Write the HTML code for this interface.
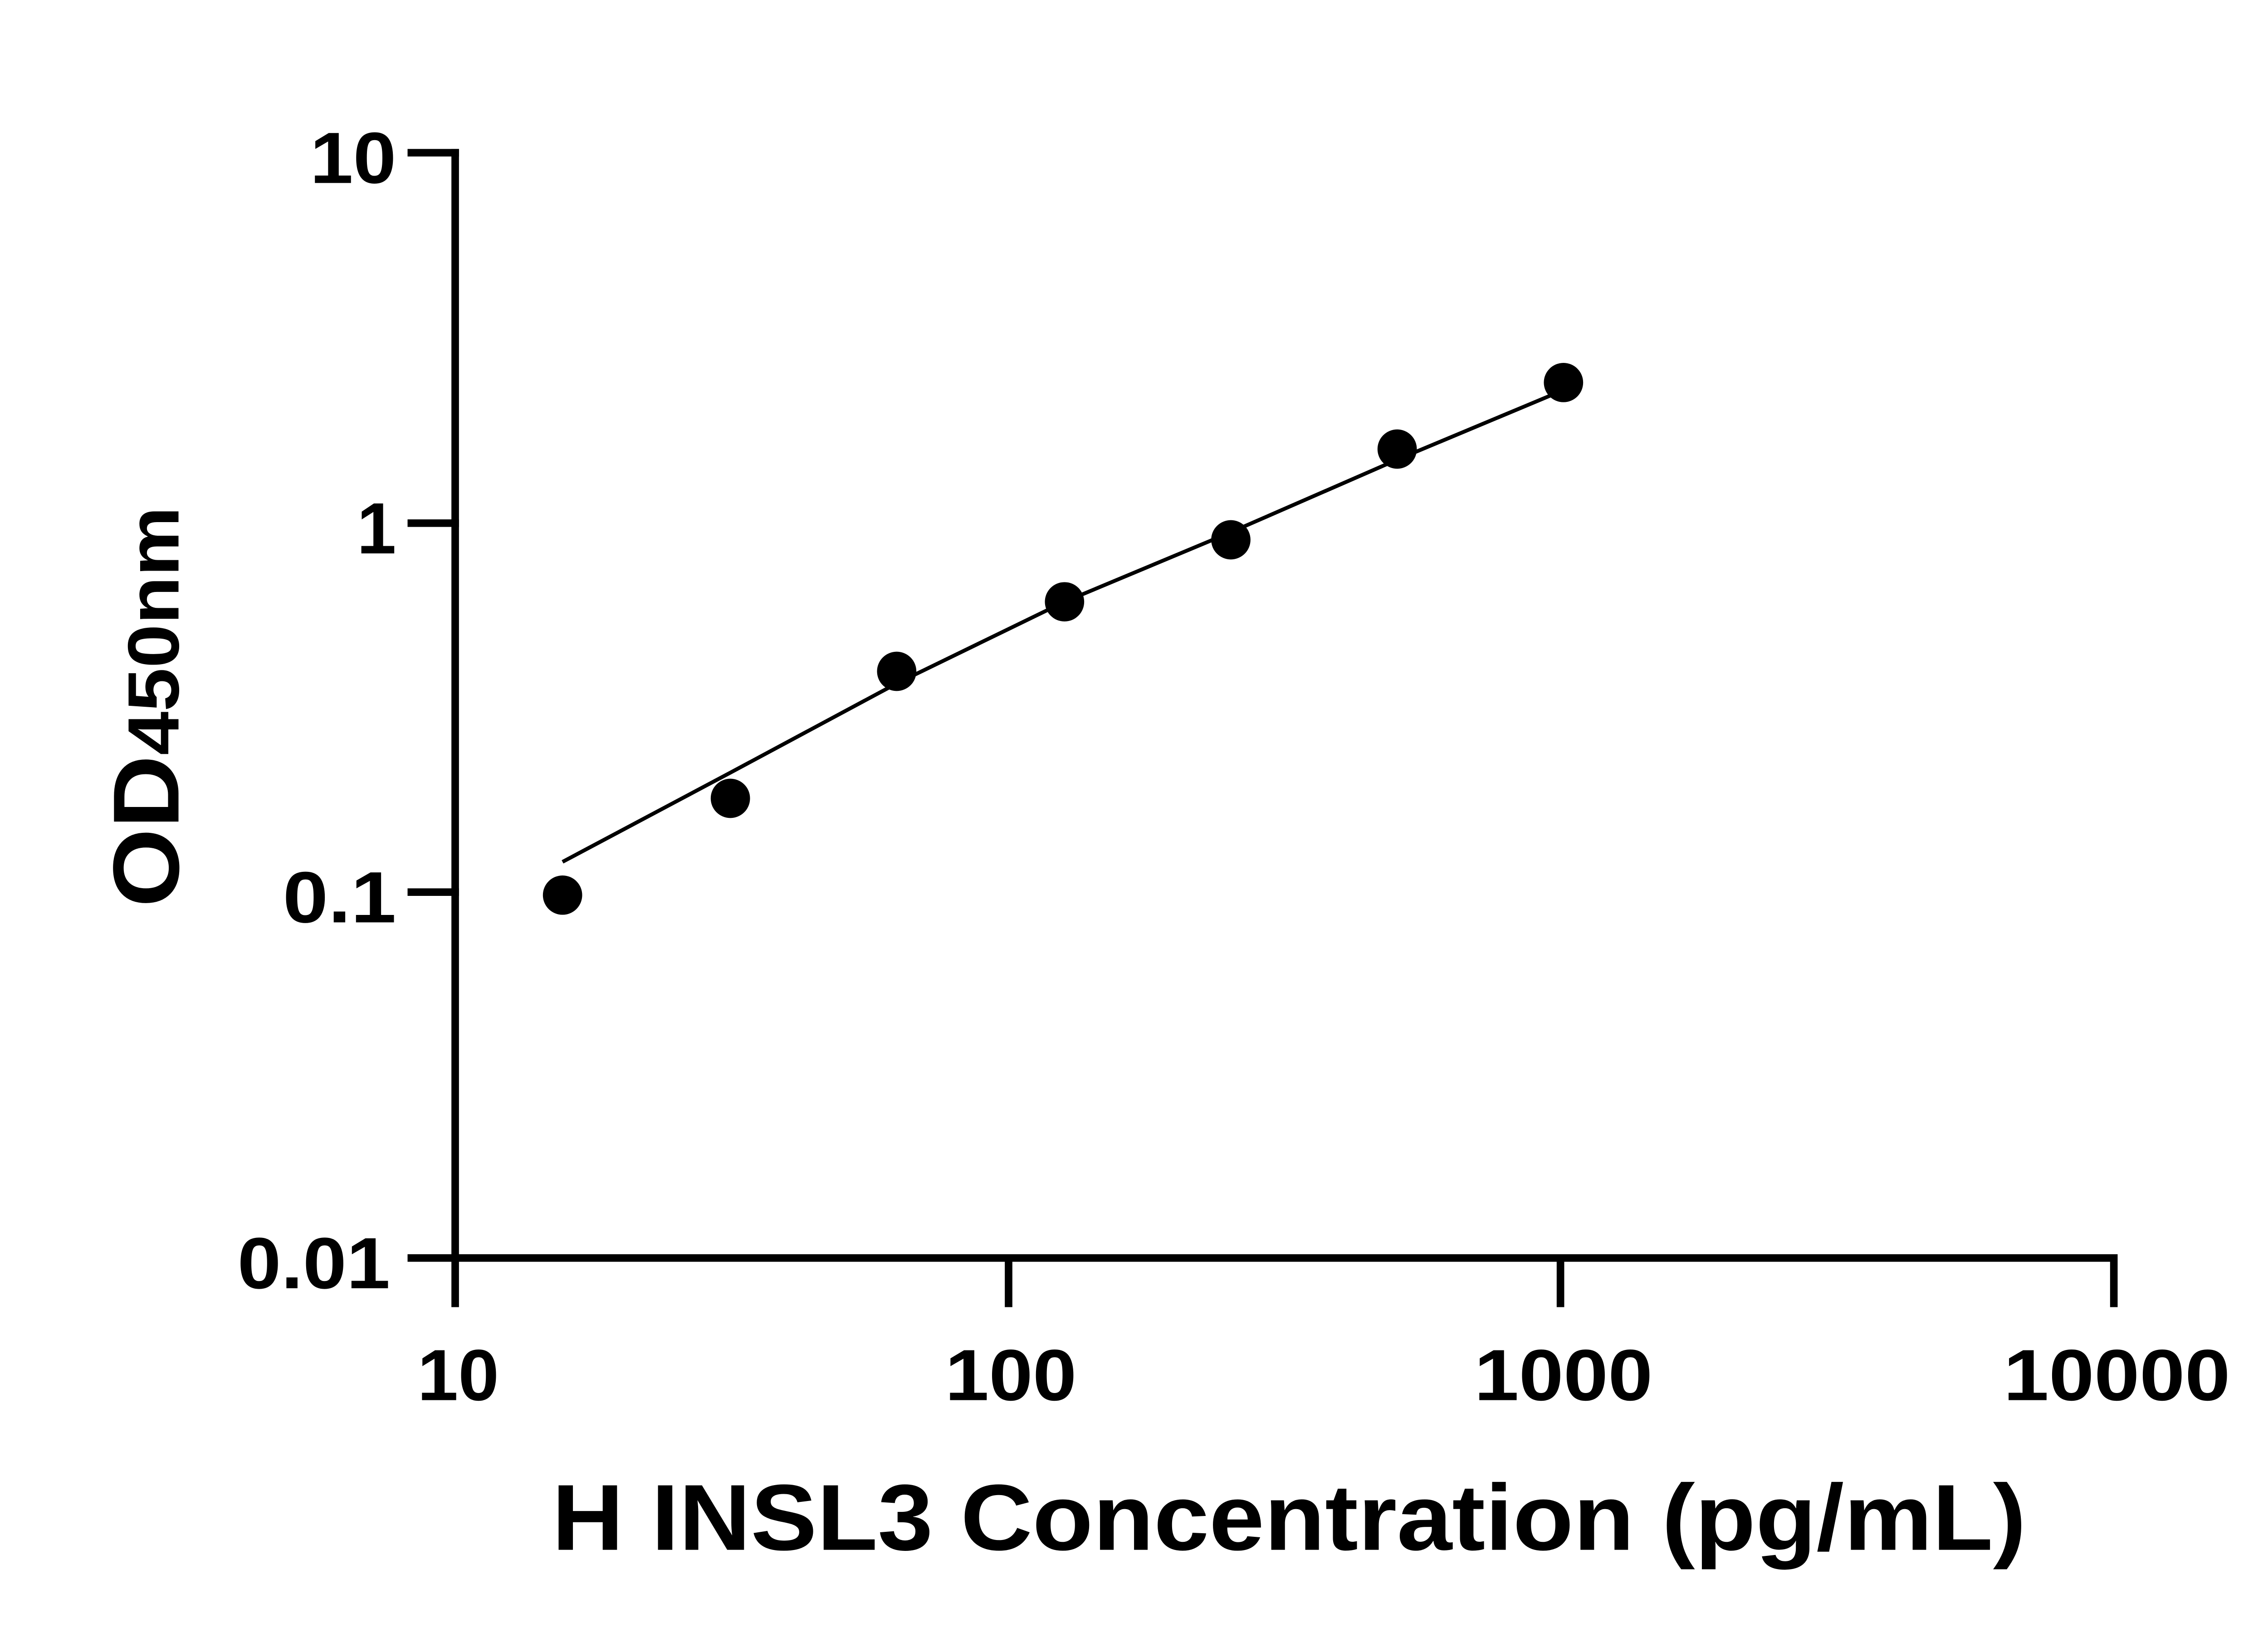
<!DOCTYPE html>
<html><head><meta charset="utf-8"><style>
html,body{margin:0;padding:0;background:#fff;}
svg{display:block;}
text{font-family:"Liberation Sans",sans-serif;font-weight:bold;fill:#000;}
</style></head><body>
<svg width="5142" height="3600" viewBox="0 0 1542.5 1080" xmlns="http://www.w3.org/2000/svg">
<rect width="1542.5" height="1080" fill="#fff"/>
<g stroke="#000" stroke-width="5" fill="none" stroke-linecap="square">
<line x1="301" y1="101" x2="301" y2="832"/>
<line x1="301" y1="832" x2="1398" y2="832"/>
<line x1="272" y1="101" x2="301" y2="101"/>
<line x1="272" y1="346" x2="301" y2="346"/>
<line x1="272" y1="590" x2="301" y2="590"/>
<line x1="272" y1="832" x2="301" y2="832"/>
<line x1="301" y1="832" x2="301" y2="862"/>
<line x1="667" y1="832" x2="667" y2="862"/>
<line x1="1032" y1="832" x2="1032" y2="862"/>
<line x1="1398" y1="832" x2="1398" y2="862"/>
</g>
<path d="M372,570 L483,511 L593,452 L704,398 L814,352 L924,304 L1034,258" stroke="#000" stroke-width="2.5" fill="none"/>
<g fill="#000">
<circle cx="372" cy="592" r="13"/>
<circle cx="483" cy="528" r="13"/>
<circle cx="593" cy="444" r="13"/>
<circle cx="704" cy="398" r="13"/>
<circle cx="814" cy="357" r="13"/>
<circle cx="924" cy="297" r="13"/>
<circle cx="1034" cy="253" r="13"/>
</g>
<g font-size="48" lengthAdjust="spacingAndGlyphs">
<text x="205" y="121" textLength="57" lengthAdjust="spacingAndGlyphs">10</text>
<text x="236" y="366" textLength="26" lengthAdjust="spacingAndGlyphs">1</text>
<text x="187" y="610" textLength="75" lengthAdjust="spacingAndGlyphs">0.1</text>
<text x="157" y="852" textLength="101" lengthAdjust="spacingAndGlyphs">0.01</text>
<text x="276" y="926" textLength="54" lengthAdjust="spacingAndGlyphs">10</text>
<text x="625" y="926" textLength="87" lengthAdjust="spacingAndGlyphs">100</text>
<text x="975" y="926" textLength="118" lengthAdjust="spacingAndGlyphs">1000</text>
<text x="1325" y="926" textLength="150" lengthAdjust="spacingAndGlyphs">10000</text>
</g>
<text x="365" y="1025" font-size="62" textLength="975" lengthAdjust="spacingAndGlyphs">H INSL3 Concentration (pg/mL)</text>
<text transform="translate(118,600) rotate(-90)" font-size="62" textLength="265" lengthAdjust="spacingAndGlyphs">OD<tspan font-size="48">450nm</tspan></text>
</svg>
</body></html>
